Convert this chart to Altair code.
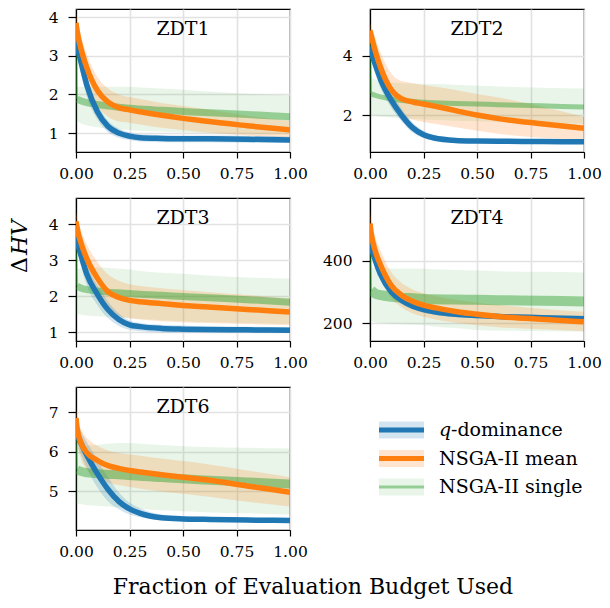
import altair as alt
import pandas as pd

# ---------------- data ----------------
X = [0, 0.005, 0.025, 0.05, 0.1, 0.15, 0.2, 0.25, 0.3, 0.4, 0.5, 0.6, 0.8, 1.0]
PROBLEMS = ["ZDT1", "ZDT2", "ZDT3", "ZDT4", "ZDT6"]
SERIES = ["q-dominance", "NSGA-II mean", "NSGA-II single"]
COLORS = ["#1f77b4", "#ff7f0e", "#2ca02c"]
XTICKS = [0, 0.25, 0.5, 0.75, 1.0]

ZDT1_Q = [3.5, 3.3, 2.8, 2.25, 1.55, 1.17, 1.0, 0.92, 0.88, 0.86, 0.85, 0.85, 0.84, 0.82]
ZDT1_Q_LO = [3.2, 3.0, 2.5, 1.95, 1.35, 1.02, 0.88, 0.82, 0.78, 0.76, 0.76, 0.76, 0.75, 0.74]
ZDT1_Q_HI = [3.7, 3.55, 3.05, 2.5, 1.75, 1.32, 1.12, 1.02, 0.97, 0.95, 0.94, 0.94, 0.93, 0.91]
ZDT1_M = [3.85, 3.65, 3.15, 2.7, 2.1, 1.8, 1.66, 1.6, 1.55, 1.46, 1.38, 1.31, 1.19, 1.08]
ZDT1_M_LO = [3.55, 3.35, 2.8, 2.3, 1.7, 1.42, 1.3, 1.27, 1.22, 1.14, 1.08, 1.02, 0.94, 0.88]
ZDT1_M_HI = [4.1, 3.95, 3.5, 3.05, 2.45, 2.15, 2.0, 1.93, 1.88, 1.78, 1.7, 1.62, 1.45, 1.32]
ZDT1_S = [3.5, 1.88, 1.83, 1.79, 1.74, 1.7, 1.67, 1.64, 1.62, 1.59, 1.56, 1.53, 1.48, 1.42]
ZDT1_S_LO = [1.3, 1.3, 1.25, 1.2, 1.15, 1.12, 1.1, 1.08, 1.06, 1.04, 1.02, 1.0, 0.98, 0.96]
ZDT1_S_HI = [3.6, 2.2, 2.2, 2.2, 2.2, 2.2, 2.2, 2.2, 2.18, 2.15, 2.12, 2.08, 2.02, 1.97]

ZDT2_Q = [4.3, 4.15, 3.7, 3.2, 2.5, 1.98, 1.58, 1.35, 1.24, 1.16, 1.14, 1.13, 1.12, 1.11]
ZDT2_Q_LO = [4.1, 3.9, 3.4, 2.9, 2.25, 1.78, 1.42, 1.24, 1.16, 1.1, 1.09, 1.08, 1.07, 1.07]
ZDT2_Q_HI = [4.5, 4.35, 3.95, 3.45, 2.75, 2.2, 1.75, 1.48, 1.33, 1.22, 1.19, 1.18, 1.17, 1.16]
ZDT2_M = [4.85, 4.7, 4.15, 3.6, 2.85, 2.55, 2.45, 2.38, 2.31, 2.16, 2.01, 1.89, 1.72, 1.57]
ZDT2_M_LO = [4.6, 4.4, 3.7, 3.1, 2.3, 1.98, 1.85, 1.78, 1.72, 1.6, 1.48, 1.38, 1.25, 1.17]
ZDT2_M_HI = [5.1, 5.0, 4.6, 4.1, 3.4, 3.15, 3.08, 3.02, 2.97, 2.85, 2.72, 2.6, 2.3, 1.95]
ZDT2_S = [4.5, 2.72, 2.67, 2.62, 2.55, 2.5, 2.47, 2.44, 2.42, 2.4, 2.38, 2.36, 2.32, 2.28]
ZDT2_S_LO = [2.0, 2.0, 1.98, 1.96, 1.93, 1.9, 1.88, 1.86, 1.84, 1.82, 1.8, 1.78, 1.75, 1.72]
ZDT2_S_HI = [4.8, 3.3, 3.2, 3.15, 3.1, 3.08, 3.07, 3.06, 3.05, 3.03, 3.0, 2.97, 2.93, 2.9]

ZDT3_Q = [3.72, 3.55, 3.1, 2.62, 2.05, 1.62, 1.35, 1.2, 1.15, 1.1, 1.08, 1.07, 1.06, 1.05]
ZDT3_Q_LO = [3.5, 3.3, 2.8, 2.3, 1.75, 1.38, 1.17, 1.06, 1.02, 0.99, 0.98, 0.98, 0.97, 0.97]
ZDT3_Q_HI = [3.9, 3.75, 3.35, 2.9, 2.3, 1.85, 1.52, 1.32, 1.25, 1.2, 1.18, 1.16, 1.15, 1.14]
ZDT3_M = [4.08, 3.9, 3.45, 3.05, 2.5, 2.12, 1.96, 1.88, 1.84, 1.79, 1.74, 1.7, 1.63, 1.56]
ZDT3_M_LO = [3.8, 3.6, 3.1, 2.65, 2.0, 1.62, 1.45, 1.38, 1.35, 1.3, 1.27, 1.25, 1.22, 1.19]
ZDT3_M_HI = [4.35, 4.2, 3.8, 3.45, 2.95, 2.6, 2.43, 2.33, 2.28, 2.22, 2.17, 2.12, 2.03, 1.93]
ZDT3_S = [3.7, 2.28, 2.22, 2.18, 2.14, 2.11, 2.09, 2.07, 2.05, 2.02, 1.99, 1.96, 1.9, 1.83]
ZDT3_S_LO = [1.5, 1.5, 1.48, 1.46, 1.44, 1.42, 1.4, 1.38, 1.36, 1.33, 1.3, 1.28, 1.25, 1.22]
ZDT3_S_HI = [4.0, 2.75, 2.78, 2.8, 2.8, 2.78, 2.76, 2.74, 2.7, 2.65, 2.62, 2.58, 2.52, 2.48]

ZDT4_Q = [485, 455, 400, 355, 300, 272, 255, 244, 237, 229, 225, 222, 218, 215]
ZDT4_Q_LO = [465, 435, 382, 338, 287, 260, 244, 234, 228, 220, 216, 213, 209, 206]
ZDT4_Q_HI = [505, 475, 418, 372, 313, 284, 266, 254, 246, 238, 234, 231, 227, 224]
ZDT4_M = [518, 490, 430, 385, 320, 288, 270, 258, 250, 238, 229, 222, 213, 205]
ZDT4_M_LO = [480, 450, 385, 340, 280, 250, 232, 221, 213, 202, 194, 188, 181, 175]
ZDT4_M_HI = [560, 530, 475, 430, 362, 328, 308, 296, 288, 275, 266, 259, 247, 237]
ZDT4_S = [480, 305, 295, 290, 285, 282, 280, 278, 277, 276, 275, 274, 272, 270]
ZDT4_S_LO = [205, 205, 203, 201, 199, 197, 196, 195, 190, 185, 179, 177, 175, 174]
ZDT4_S_HI = [540, 380, 375, 375, 375, 375, 375, 374, 372, 370, 368, 366, 364, 362]

ZDT6_Q = [6.55, 6.45, 6.2, 5.92, 5.45, 5.05, 4.75, 4.56, 4.45, 4.34, 4.31, 4.3, 4.28, 4.27]
ZDT6_Q_LO = [6.3, 6.2, 5.9, 5.6, 5.1, 4.75, 4.55, 4.42, 4.35, 4.27, 4.25, 4.24, 4.23, 4.22]
ZDT6_Q_HI = [6.8, 6.7, 6.5, 6.25, 5.8, 5.35, 4.98, 4.72, 4.58, 4.42, 4.38, 4.36, 4.34, 4.33]
ZDT6_M = [6.85, 6.6, 6.2, 5.98, 5.78, 5.65, 5.58, 5.53, 5.49, 5.42, 5.36, 5.3, 5.14, 4.98]
ZDT6_M_LO = [6.5, 6.25, 5.8, 5.55, 5.35, 5.22, 5.16, 5.11, 5.07, 5.0, 4.94, 4.88, 4.74, 4.62]
ZDT6_M_HI = [7.1, 6.9, 6.55, 6.35, 6.15, 6.03, 5.97, 5.93, 5.9, 5.83, 5.77, 5.7, 5.53, 5.36]
ZDT6_S = [6.6, 5.55, 5.5, 5.47, 5.45, 5.43, 5.42, 5.4, 5.38, 5.35, 5.32, 5.29, 5.24, 5.19]
ZDT6_S_LO = [4.7, 4.7, 4.68, 4.66, 4.64, 4.62, 4.6, 4.58, 4.56, 4.53, 4.5, 4.48, 4.45, 4.42]
ZDT6_S_HI = [6.9, 6.1, 6.12, 6.15, 6.17, 6.2, 6.22, 6.22, 6.2, 6.17, 6.14, 6.12, 6.1, 6.08]

Y_DOMAINS = {"ZDT1": [0.51, 4.21], "ZDT2": [0.77, 5.57], "ZDT3": [0.75, 4.73],
             "ZDT4": [144, 599], "ZDT6": [4.03, 7.63]}
Y_TICKS = {"ZDT1": [1, 2, 3, 4], "ZDT2": [2, 4], "ZDT3": [1, 2, 3, 4],
           "ZDT4": [200, 400], "ZDT6": [5, 6, 7]}

RAW = {
    "ZDT1": [(ZDT1_Q, ZDT1_Q_LO, ZDT1_Q_HI), (ZDT1_M, ZDT1_M_LO, ZDT1_M_HI), (ZDT1_S, ZDT1_S_LO, ZDT1_S_HI)],
    "ZDT2": [(ZDT2_Q, ZDT2_Q_LO, ZDT2_Q_HI), (ZDT2_M, ZDT2_M_LO, ZDT2_M_HI), (ZDT2_S, ZDT2_S_LO, ZDT2_S_HI)],
    "ZDT3": [(ZDT3_Q, ZDT3_Q_LO, ZDT3_Q_HI), (ZDT3_M, ZDT3_M_LO, ZDT3_M_HI), (ZDT3_S, ZDT3_S_LO, ZDT3_S_HI)],
    "ZDT4": [(ZDT4_Q, ZDT4_Q_LO, ZDT4_Q_HI), (ZDT4_M, ZDT4_M_LO, ZDT4_M_HI), (ZDT4_S, ZDT4_S_LO, ZDT4_S_HI)],
    "ZDT6": [(ZDT6_Q, ZDT6_Q_LO, ZDT6_Q_HI), (ZDT6_M, ZDT6_M_LO, ZDT6_M_HI), (ZDT6_S, ZDT6_S_LO, ZDT6_S_HI)],
}

rows = []
for p in PROBLEMS:
    for s, (m, lo, hi) in zip(SERIES, RAW[p]):
        for i, xv in enumerate(X):
            rows.append({"problem": p, "series": s, "x": xv, "mean": m[i], "lo": lo[i], "hi": hi[i]})
df = pd.DataFrame(rows)

# ---------------- styling ----------------
FONT = "DejaVu Serif"
W, H = 214, 143
COL = dict(zip(SERIES, COLORS))
BAND_OPACITY = {"q-dominance": 0.2, "NSGA-II mean": 0.2, "NSGA-II single": 0.1}
LINE_WIDTH = {"q-dominance": 5.5, "NSGA-II mean": 5.5, "NSGA-II single": 6}
LINE_OPACITY = {"q-dominance": 1.0, "NSGA-II mean": 1.0, "NSGA-II single": 0.45}
SINGLE_WIDTH = {"ZDT1": 7, "ZDT2": 5, "ZDT3": 7, "ZDT4": 10, "ZDT6": 9}


def panel(p, ylabel=False, xlabel=False):
    d = df[df.problem == p]
    xenc = alt.X("x:Q", scale=alt.Scale(domain=[0, 1], nice=False),
                 axis=alt.Axis(values=XTICKS, format=".2f", title=None, labelFlush=False,
                               tickSize=6, labelPadding=8))
    yscale = alt.Scale(domain=Y_DOMAINS[p], nice=False, zero=False)
    yaxis = alt.Axis(values=Y_TICKS[p], title=None, tickSize=8, labelPadding=10)
    layers = []
    for s in ["NSGA-II single", "NSGA-II mean", "q-dominance"]:
        ds = d[d.series == s]
        layers.append(alt.Chart(ds).mark_area(color=COL[s], opacity=BAND_OPACITY[s],
                                              interpolate="monotone", clip=True)
                      .encode(x=xenc, y=alt.Y("lo:Q", scale=yscale, axis=yaxis), y2="hi:Q"))
    # single run: thin initial drop, then a broad stroke
    ds = d[d.series == "NSGA-II single"]
    s = "NSGA-II single"
    layers.append(alt.Chart(ds[ds.x <= 0.005]).mark_line(color=COL[s], strokeWidth=2,
                                                         opacity=LINE_OPACITY[s], clip=True)
                  .encode(x=xenc, y=alt.Y("mean:Q", scale=yscale, axis=yaxis)))
    layers.append(alt.Chart(ds[ds.x > 0]).mark_line(color=COL[s], strokeWidth=SINGLE_WIDTH[p],
                                                    opacity=LINE_OPACITY[s], interpolate="monotone",
                                                    strokeCap="butt", clip=True)
                  .encode(x=xenc, y=alt.Y("mean:Q", scale=yscale, axis=yaxis)))
    for s in ["q-dominance", "NSGA-II mean"]:
        ds = d[d.series == s]
        layers.append(alt.Chart(ds).mark_line(color=COL[s], strokeWidth=LINE_WIDTH[s],
                                              opacity=LINE_OPACITY[s], interpolate="monotone",
                                              clip=True)
                      .encode(x=xenc, y=alt.Y("mean:Q", scale=yscale, axis=yaxis)))
    layers.append(alt.Chart(pd.DataFrame({"t": [p]}))
                  .mark_text(font=FONT, fontSize=19, color="black", baseline="middle", align="center")
                  .encode(text="t:N", x=alt.value(W / 2), y=alt.value(20)))
    if ylabel:
        layers.append(alt.Chart(pd.DataFrame({"t": ["Δ"]}))
                      .mark_text(font=FONT, fontSize=22, color="black", angle=270,
                                 align="left", baseline="middle")
                      .encode(text="t:N", x=alt.value(-56), y=alt.value(75)))
        layers.append(alt.Chart(pd.DataFrame({"t": ["HV"]}))
                      .mark_text(font=FONT, fontSize=22, fontStyle="italic", color="black",
                                 angle=270, align="left", baseline="middle")
                      .encode(text="t:N", x=alt.value(-56), y=alt.value(57)))
    if xlabel:
        layers.append(alt.Chart(pd.DataFrame({"t": ["Fraction of Evaluation Budget Used"]}))
                      .mark_text(font=FONT, fontSize=22, color="black", align="center",
                                 baseline="middle")
                      .encode(text="t:N", x=alt.value(237), y=alt.value(200)))
    return alt.layer(*layers).properties(width=W, height=H)


def legend_panel():
    leg = pd.DataFrame({"series": SERIES})
    ydef = alt.Y("series:N", scale=alt.Scale(type="point", domain=SERIES, range=[43, 100], padding=0),
                 axis=None)
    layers = []
    for s in SERIES:
        ds = leg[leg.series == s]
        layers.append(alt.Chart(ds).mark_rule(color=COL[s], opacity=BAND_OPACITY[s], strokeWidth=17)
                      .encode(x=alt.value(9), x2=alt.value(54), y=ydef))
        lw = 5 if s != "NSGA-II single" else 3
        layers.append(alt.Chart(ds).mark_rule(color=COL[s], opacity=LINE_OPACITY[s], strokeWidth=lw)
                      .encode(x=alt.value(9), x2=alt.value(54), y=ydef))
    ds = leg[leg.series == "q-dominance"]
    layers.append(alt.Chart(ds).mark_text(font=FONT, fontSize=19, fontStyle="italic", align="left",
                                          baseline="middle", color="black")
                  .encode(text=alt.value("q"), x=alt.value(69), y=ydef))
    layers.append(alt.Chart(ds).mark_text(font=FONT, fontSize=19, align="left",
                                          baseline="middle", color="black")
                  .encode(text=alt.value("-dominance"), x=alt.value(81), y=ydef))
    for s in SERIES[1:]:
        ds = leg[leg.series == s]
        layers.append(alt.Chart(ds).mark_text(font=FONT, fontSize=19, align="left",
                                              baseline="middle", color="black")
                      .encode(text="series:N", x=alt.value(69), y=ydef))
    return alt.layer(*layers).properties(width=W, height=H,
                                         view=alt.ViewBackground(stroke="transparent"))


panels = [panel("ZDT1"), panel("ZDT2"), panel("ZDT3", ylabel=True), panel("ZDT4"),
          panel("ZDT6", xlabel=True), legend_panel()]

chart = (alt.concat(*panels, columns=2, spacing={"row": 46, "column": 80}, bounds="flush")
         .properties(padding={"left": 0, "top": 0, "right": 0, "bottom": 0}, background="white")
         .configure_view(stroke="black", strokeWidth=1.2)
         .configure_axis(labelFont=FONT, labelFontSize=15.5, labelColor="black",
                         tickColor="black", tickWidth=1.2, domainColor="black", domainWidth=1.2,
                         gridColor="#e2e2e2", gridWidth=1.6, grid=True))

chart.save("out.html", embed_options={"renderer": "svg", "actions": False})
